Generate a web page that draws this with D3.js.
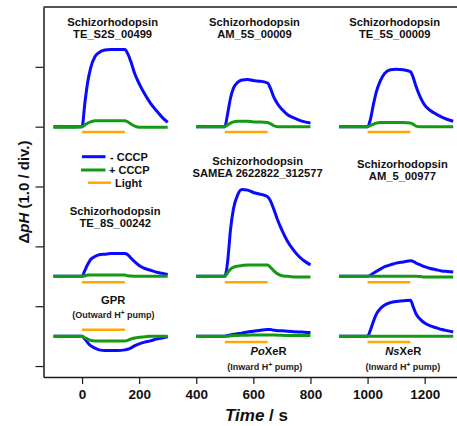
<!DOCTYPE html>
<html><head><meta charset="utf-8">
<script src="https://cdn.jsdelivr.net/npm/d3@7"></script>
<style>
html,body{margin:0;padding:0;background:#fff;}
svg{display:block;font-family:"Liberation Sans",Arial,sans-serif;}
</style></head>
<body><svg id="chart" width="457" height="426"></svg>
<script>
// ---- data ----
const relTime = [-100,-50,0,10,20,30,45,60,80,100,125,150,160,170,185,200,220,240,260,280,300];
const panelOffsets = [0,500,1000, 0,500,1000, 0,500,1000];
const panelBaselines = [4,4,4, 1.5,1.5,1.5, 0.5,0.5,0.5];
const lightOffsets = [-0.09,-0.09,-0.09, -0.1,-0.1,-0.1, 0.107,-0.1,-0.1];
const lightStart = 0, lightEnd = 150;

const blueCCCP = [
 [0,0,0,0.40,0.75,0.98,1.17,1.24,1.28,1.29,1.29,1.29,1.22,1.10,0.88,0.72,0.54,0.39,0.27,0.16,0.07],
 [0,0,0,0.22,0.48,0.64,0.74,0.78,0.79,0.77,0.76,0.73,0.64,0.51,0.38,0.29,0.20,0.15,0.11,0.08,0.06],
 [0,0,0,0.12,0.36,0.57,0.77,0.89,0.95,0.96,0.95,0.92,0.82,0.67,0.49,0.36,0.27,0.21,0.16,0.12,0.09],
 [0,0,0,0.10,0.20,0.28,0.33,0.36,0.37,0.38,0.38,0.38,0.36,0.31,0.24,0.18,0.13,0.10,0.07,0.05,0.03],
 [0,0,0,0.25,0.78,1.12,1.36,1.45,1.44,1.40,1.37,1.33,1.26,1.14,0.94,0.77,0.58,0.44,0.33,0.25,0.19],
 [0,0,0,0.02,0.05,0.08,0.12,0.16,0.19,0.22,0.24,0.26,0.25,0.22,0.19,0.16,0.13,0.11,0.09,0.08,0.07],
 [0,0,0,-0.05,-0.11,-0.16,-0.20,-0.23,-0.24,-0.24,-0.24,-0.23,-0.22,-0.20,-0.16,-0.13,-0.10,-0.08,-0.05,-0.03,-0.01],
 [0,0,0,0.01,0.02,0.03,0.04,0.05,0.07,0.08,0.10,0.11,0.11,0.10,0.09,0.09,0.08,0.075,0.07,0.065,0.06],
 [0,0,0,0.10,0.24,0.36,0.46,0.52,0.56,0.58,0.59,0.60,0.49,0.37,0.28,0.22,0.17,0.14,0.11,0.09,0.07]
];
const greenCCCP = [
 [-0.01,-0.01,0,0.03,0.06,0.08,0.10,0.10,0.10,0.10,0.10,0.10,0.08,0.05,0.01,-0.01,-0.01,-0.01,-0.01,-0.01,-0.01],
 [0,0,0,0.03,0.06,0.08,0.09,0.09,0.09,0.08,0.08,0.07,0.05,0.02,0,0,0,0,0,0,0],
 [0,0,0,0.02,0.04,0.06,0.07,0.07,0.07,0.07,0.07,0.06,0.04,0.01,0,0,0,0,0,0,0],
 [0,0,0,0.01,0.02,0.02,0.02,0.02,0.02,0.02,0.02,0.02,0.01,0.005,0,0,0,0,0,0,0],
 [0,0,0,0.06,0.12,0.15,0.17,0.18,0.19,0.19,0.19,0.19,0.15,0.10,0.04,0.01,0,-0.01,-0.01,-0.01,-0.01],
 [0,0,0,0,0,0,0,0,0,0,0,0,0,0,-0.005,-0.01,-0.01,-0.01,-0.01,-0.01,-0.01],
 [0,0,0,-0.03,-0.05,-0.07,-0.08,-0.08,-0.08,-0.08,-0.08,-0.08,-0.07,-0.05,-0.03,-0.02,-0.01,0,0,0,0],
 [0,0,0,0,0.005,0.01,0.01,0.015,0.015,0.02,0.02,0.02,0.02,0.02,0.015,0.015,0.01,0.01,0.01,0.01,0.01],
 [0,0,0,0,0,0,0,0,0,0,0,0,0,0,0,0,0,0,0,0,0]
];
const xTicks = [0,200,400,600,800,1000,1200];
const yTicks = [0,1,2,3,4,5];
const legendLabels = ["- CCCP","+ CCCP","Light"];

// ---- layout ----
const svg = d3.select("#chart");
const x = d3.scaleLinear().domain([-135,1315]).range([43.5,457.5]);
const y = d3.scaleLinear().domain([-0.183,6]).range([377,7]);
const BLUE="#0a0aff", GREEN="#139a13", ORANGE="#ffa800", AX="#1a1a1a";

// axes
svg.append("line").attr("x1",x(-135)).attr("x2",457).attr("y1",y(6)).attr("y2",y(6))
  .attr("stroke",AX).attr("stroke-width",1.5);
const xa = svg.append("g").attr("transform",`translate(0,${y(-0.183)})`)
  .call(d3.axisBottom(x).tickValues(xTicks).tickSize(7).tickSizeOuter(0).tickPadding(5).tickFormat(d3.format("d")));
xa.select(".domain").attr("stroke",AX).attr("stroke-width",1.5);
xa.selectAll(".tick line").attr("stroke",AX).attr("stroke-width",1.2);
xa.selectAll(".tick text").attr("font-size",13.5).attr("font-weight","bold").attr("fill","#111")
  .attr("font-family","Liberation Sans, Arial, sans-serif");
const ya = svg.append("g").attr("transform",`translate(${x(-135)},0)`)
  .call(d3.axisLeft(y).tickValues(yTicks).tickSize(8).tickSizeOuter(0).tickFormat(""));
ya.select(".domain").attr("stroke",AX).attr("stroke-width",1.5);
ya.selectAll(".tick line").attr("stroke",AX).attr("stroke-width",1.2);

// curves
const line = d3.line().curve(d3.curveMonotoneX);
panelOffsets.forEach((off,i)=>{
  const base = panelBaselines[i];
  const bpts = relTime.map((t,j)=>[x(t+off), y(base+blueCCCP[i][j])]);
  const gpts = relTime.map((t,j)=>[x(t+off), y(base+greenCCCP[i][j])]);
  svg.append("path").attr("d",line(bpts)).attr("fill","none").attr("stroke",BLUE).attr("stroke-width",3);
  svg.append("path").attr("d",line(gpts)).attr("fill","none").attr("stroke",GREEN).attr("stroke-width",3);
  const ly = y(base+lightOffsets[i]);
  svg.append("line").attr("x1",x(off+lightStart)).attr("x2",x(off+lightEnd)).attr("y1",ly).attr("y2",ly)
    .attr("stroke",ORANGE).attr("stroke-width",2.5);
});

// titles
function title(tx, y1, lines){
  lines.forEach((s,k)=>{
    svg.append("text").attr("x",x(tx)).attr("y",y1+k*12.4).attr("text-anchor","middle")
      .attr("font-size",11.2).attr("font-weight","bold").attr("fill","#111").text(s);
  });
}
title(107, 26, ["Schizorhodopsin","TE_S2S_00499"]);
title(604, 26, ["Schizorhodopsin","AM_5S_00009"]);
title(1095, 26, ["Schizorhodopsin","TE_5S_00009"]);
title(116, 214.5, ["Schizorhodopsin","TE_8S_00242"]);
title(615, 164.5, ["Schizorhodopsin","SAMEA 2622822_312577"]);
title(1122, 168, ["Schizorhodopsin","AM_5_00977"]);
title(109, 304, ["GPR"]);

function pumpLabel(tx, yy, word){
  const t = svg.append("text").attr("x",x(tx)).attr("y",yy).attr("text-anchor","middle")
    .attr("font-size",9).attr("font-weight","bold").attr("fill","#222");
  t.append("tspan").text(`(${word} H`);
  t.append("tspan").attr("dy",-3.5).attr("font-size",6.5).text("+");
  t.append("tspan").attr("dy",3.5).text(" pump)");
}
pumpLabel(110, 318, "Outward");
pumpLabel(640, 370, "Inward");
pumpLabel(1124, 370, "Inward");

function xerLabel(tx, yy, it){
  const t = svg.append("text").attr("x",x(tx)).attr("y",yy).attr("text-anchor","middle")
    .attr("font-size",11.2).attr("font-weight","bold").attr("fill","#111");
  t.append("tspan").attr("font-style","italic").text(it);
  t.append("tspan").text("XeR");
}
xerLabel(653, 355, "Po");
xerLabel(1125, 355, "Ns");

// legend
const legColors = [BLUE, GREEN, ORANGE];
const legY = [156.7, 170, 182.7];
const legX1 = [82, 81, 88], legX2 = [105.5, 105.5, 111];
const legTX = [110, 109, 115];
legendLabels.forEach((s,i)=>{
  svg.append("line").attr("x1",legX1[i]).attr("x2",legX2[i]).attr("y1",legY[i]).attr("y2",legY[i])
    .attr("stroke",legColors[i]).attr("stroke-width",i<2?3:2.5);
  svg.append("text").attr("x",legTX[i]).attr("y",legY[i]+4).attr("font-size",11)
    .attr("font-weight","bold").attr("fill","#111").text(s);
});

// axis labels
const yl = svg.append("text").attr("transform","translate(29,192) rotate(-90)").attr("text-anchor","middle")
  .attr("font-size",15).attr("font-weight","bold").attr("fill","#111");
yl.append("tspan").text("Δ");
yl.append("tspan").attr("font-style","italic").text("pH");
yl.append("tspan").text(" (1.0 / div.)");
const xl = svg.append("text").attr("x",225).attr("y",421).attr("font-size",17)
  .attr("font-weight","bold").attr("fill","#111");
xl.append("tspan").attr("font-style","italic").text("Time");
xl.append("tspan").text(" / s");
</script></body></html>
